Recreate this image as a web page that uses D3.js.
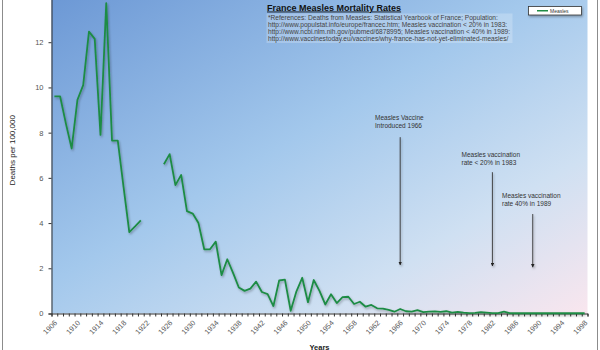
<!DOCTYPE html>
<html>
<head>
<meta charset="utf-8">
<script src="https://cdn.jsdelivr.net/npm/d3@7"></script>
<style>
  html, body { margin: 0; padding: 0; background: #fff; }
  svg { display: block; font-family: "Liberation Sans", Arial, sans-serif; }
</style>
</head>
<body>
<svg id="chart" width="600" height="350"></svg>
<script>
// Measles deaths per 100,000 inhabitants, France, 1906-1998 (null = no data)
const years = d3.range(1906, 1999);
const deaths = [
  9.6, 9.6, 8.4, 7.3, 9.45, 10.1, 12.47, 12.15, 7.9, 13.73,
  7.65, 7.65, 5.6, 3.6, 3.85, 4.12, null, null, null, 6.6,
  7.05, 5.68, 6.13, 4.53, 4.42, 4.0, 2.84, 2.84, 3.18, 1.7,
  2.4, 1.8, 1.15, 1.0, 1.1, 1.41, 0.95, 0.86, 0.33, 1.46,
  1.5, 0.12, 0.98, 1.58, 0.5, 1.48, 1.0, 0.4, 0.85, 0.46,
  0.72, 0.74, 0.42, 0.52, 0.3, 0.38, 0.23, 0.22, 0.16, 0.08,
  0.2, 0.1, 0.08, 0.15, 0.06, 0.08, 0.09, 0.07, 0.1, 0.04,
  0.07, 0.04, 0.02, 0.03, 0.06, 0.04, 0.02, 0.02, 0.08, 0.02,
  0.01, 0.01, 0.01, 0.01, 0.01, 0.01, 0.01, 0.01, 0.01, 0.01,
  0.01, 0.01, 0.01
];
const xLabelYears = [1906, 1910, 1914, 1918, 1922, 1926, 1930, 1934, 1938, 1942, 1946, 1950,
                     1954, 1958, 1962, 1966, 1970, 1974, 1978, 1982, 1986, 1990, 1994, 1998];
const yTicks = [0, 2, 4, 6, 8, 10, 12];

const title = "France Measles Mortality Rates";
const references = [
  "*References: Deaths from Measles: Statistical Yearbook of France; Population:",
  "http://www.populstat.info/europe/francec.htm; Measles vaccination < 20% in 1983:",
  "http://www.ncbi.nlm.nih.gov/pubmed/6878995; Measles vaccination < 40% in 1989:",
  "http://www.vaccinestoday.eu/vaccines/why-france-has-not-yet-eliminated-measles/"
];
// Callouts: text lines, year the arrow points at, arrow top and tip (deaths scale)
const notes = [
  { lines: ["Measles Vaccine", "Introduced 1966"], year: 1966, top: 7.8, tip: 2.15, tx: 375, ty: 120 },
  { lines: ["Measles vaccination", "rate < 20% in 1983"], year: 1982, top: 6.25, tip: 2.1, tx: 461.5, ty: 157 },
  { lines: ["Measles vaccination", "rate 40% in 1989"], year: 1989, top: 4.4, tip: 2.05, tx: 502, ty: 198 }
];

const svg = d3.select("#chart");
const plot = { left: 51.5, right: 587.5, top: -3, bottom: 313.5 };

const x = d3.scaleBand().domain(years).range([plot.left, plot.right]).paddingInner(0).paddingOuter(0);
const xEdge = d3.scaleLinear().domain([1906, 1999]).range([plot.left, plot.right]);
const y = d3.scaleLinear().domain([0, 14]).range([plot.bottom, plot.top]);

const defs = svg.append("defs");
const grad = defs.append("linearGradient").attr("id", "bg")
  .attr("x1", 0).attr("y1", 0).attr("x2", 1).attr("y2", 1);
grad.append("stop").attr("offset", "0%").attr("stop-color", "#6c98d5");
grad.append("stop").attr("offset", "45%").attr("stop-color", "#a3c8ec");
grad.append("stop").attr("offset", "75%").attr("stop-color", "#cfe0f2");
grad.append("stop").attr("offset", "100%").attr("stop-color", "#f9e6ee");

// Soft drop shadow; user-space region so thin vertical lines still render
const shadow = defs.append("filter").attr("id", "shadow")
  .attr("filterUnits", "userSpaceOnUse")
  .attr("x", 0).attr("y", -10).attr("width", 600).attr("height", 370);
shadow.append("feDropShadow").attr("dx", 1).attr("dy", 1.5).attr("stdDeviation", 0.8)
  .attr("flood-color", "#000").attr("flood-opacity", 0.3);

// Chart frame
svg.append("rect").attr("x", 2.5).attr("y", -5).attr("width", 595).attr("height", 400)
  .attr("fill", "#fff").attr("stroke", "#8c8c8c").attr("stroke-width", 1);

// Plot background
svg.append("rect")
  .attr("x", plot.left).attr("y", plot.top)
  .attr("width", plot.right - plot.left).attr("height", plot.bottom - plot.top)
  .attr("fill", "url(#bg)");

// Y axis
const yAxis = svg.append("g").attr("transform", `translate(${plot.left},0)`)
  .call(d3.axisLeft(y).tickValues(yTicks).tickSize(3).tickPadding(5).tickFormat(d3.format("d")));
yAxis.select(".domain").attr("stroke", "#333");
yAxis.selectAll(".tick line").attr("stroke", "#333");
yAxis.selectAll("text").attr("font-size", 7.5).attr("fill", "#555");

// X axis: a tick at every category boundary, labels every four years
const xTicks = svg.append("g").attr("transform", `translate(0,${plot.bottom})`)
  .call(d3.axisBottom(xEdge).tickValues(d3.range(1906, 2000)).tickSize(3).tickFormat(""));
xTicks.select(".domain").attr("stroke", "#333");
xTicks.selectAll(".tick line").attr("stroke", "#333");

const xLabels = svg.append("g").attr("transform", `translate(0,${plot.bottom})`)
  .call(d3.axisBottom(x).tickValues(xLabelYears).tickSize(0));
xLabels.select(".domain").remove();
xLabels.selectAll("text")
  .attr("y", 0).attr("dy", "0.35em")
  .attr("transform", "translate(1.5,8) rotate(-45)")
  .attr("text-anchor", "end")
  .attr("font-size", 7.4).attr("fill", "#555");

// Axis titles
svg.append("text")
  .attr("transform", `translate(15,${(plot.top + plot.bottom) / 2 - 5}) rotate(-90)`)
  .attr("text-anchor", "middle").attr("font-size", 8).attr("fill", "#222")
  .text("Deaths per 100,000");
svg.append("text")
  .attr("x", (plot.left + plot.right) / 2).attr("y", 349.5)
  .attr("text-anchor", "middle").attr("font-size", 7.5).attr("font-weight", "bold").attr("fill", "#222")
  .text("Years");

// Mortality line
const line = d3.line()
  .defined(d => d.v != null)
  .x(d => x(d.year) + x.bandwidth() / 2)
  .y(d => y(d.v));
const series = years.map((yr, i) => ({ year: yr, v: deaths[i] }));
svg.append("path").datum(series)
  .attr("d", line)
  .attr("fill", "none")
  .attr("stroke", "#1f8c45")
  .attr("stroke-width", 1.8)
  .attr("stroke-linejoin", "round")
  .attr("filter", "url(#shadow)");

// Title and references
svg.append("text")
  .attr("x", 267).attr("y", 10.5)
  .attr("font-size", 9).attr("font-weight", "bold").attr("fill", "#111")
  .attr("text-decoration", "underline")
  .text(title);
svg.append("rect").attr("x", 266.5).attr("y", 13.5).attr("width", 246).attr("height", 29.5)
  .attr("fill", "#ffffff").attr("fill-opacity", 0.22);
svg.append("g").selectAll("text").data(references).join("text")
  .attr("x", 268).attr("y", (d, i) => 19.5 + i * 7.1)
  .attr("font-size", 6.6).attr("fill", "#444")
  .text(d => d);

// Legend
const legend = svg.append("g");
legend.append("rect").attr("x", 528.5).attr("y", 6.5).attr("width", 53).attr("height", 8.5)
  .attr("fill", "#fff").attr("stroke", "#333").attr("stroke-width", 0.8)
  .attr("filter", "url(#shadow)");
legend.append("line").attr("x1", 537).attr("x2", 548).attr("y1", 10.75).attr("y2", 10.75)
  .attr("stroke", "#1f8c45").attr("stroke-width", 1.5);
legend.append("text").attr("x", 550).attr("y", 12.6)
  .attr("font-size", 5).attr("fill", "#333").text("Measles");

// Callouts
defs.append("marker").attr("id", "arrow")
  .attr("viewBox", "0 0 10 10").attr("refX", 9).attr("refY", 5)
  .attr("markerWidth", 4).attr("markerHeight", 4).attr("orient", "auto")
  .append("path").attr("d", "M0,0 L10,5 L0,10 z").attr("fill", "#222");

const noteG = svg.append("g").selectAll("g").data(notes).join("g");
noteG.append("line")
  .attr("x1", d => x(d.year) + x.bandwidth() / 2).attr("x2", d => x(d.year) + x.bandwidth() / 2)
  .attr("y1", d => y(d.top)).attr("y2", d => y(d.tip))
  .attr("stroke", "#333").attr("stroke-width", 0.9)
  .attr("marker-end", "url(#arrow)")
  .attr("filter", "url(#shadow)");
noteG.each(function (d) {
  d3.select(this).selectAll("text").data(d.lines).join("text")
    .attr("x", d.tx).attr("y", (t, i) => d.ty + i * 7.8)
    .attr("font-size", 6.5).attr("fill", "#333")
    .text(t => t);
});
</script>
</body>
</html>
